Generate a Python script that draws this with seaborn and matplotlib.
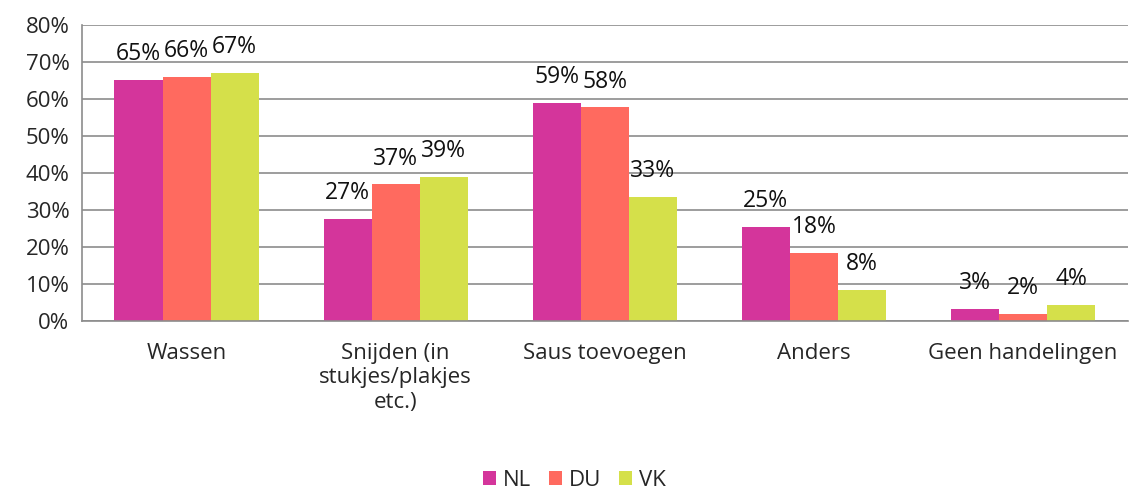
import pandas as pd
import matplotlib.pyplot as plt
import seaborn as sns
from matplotlib.ticker import FixedLocator, PercentFormatter

# Data
categories = ["Wassen", "Snijden (in\nstukjes/plakjes\netc.)", "Saus toevoegen", "Anders", "Geen handelingen"]
series = ["NL", "DU", "VK"]
nl = [65.2, 27.5, 59.0, 25.4, 3.2]
du = [66.0, 36.9, 57.7, 18.5, 1.8]
vk = [67.0, 39.0, 33.4, 8.4, 4.4]
nl_labels = ["65%", "27%", "59%", "25%", "3%"]
du_labels = ["66%", "37%", "58%", "18%", "2%"]
vk_labels = ["67%", "39%", "33%", "8%", "4%"]

colors = ["#D4359B", "#FF6A5F", "#D5E04A"]

df = pd.DataFrame({
    "category": categories * 3,
    "land": [s for s in series for _ in categories],
    "value": nl + du + vk,
})

sns.set_style("white")
plt.rcParams["font.family"] = ["Open Sans", "DejaVu Sans"]

fig = plt.figure(figsize=(11.31, 4.9), dpi=100)
ax = fig.add_axes([0.0725, 0.345, 0.9245, 0.604])

sns.barplot(data=df, x="category", y="value", hue="land", palette=colors,
            width=0.69, saturation=1, linewidth=0, ax=ax, legend=True)

for cont, labs in zip(ax.containers, [nl_labels, du_labels, vk_labels]):
    ax.bar_label(cont, labels=labs, padding=10, fontsize=16.5, color="#111111")

ax.set_ylim(0, 80)
ax.set_xlim(-0.5, 4.5)
ax.yaxis.set_major_locator(FixedLocator(range(0, 81, 10)))
ax.yaxis.set_major_formatter(PercentFormatter(decimals=0))
ax.grid(axis="y", color="#8c8c8c", linewidth=1.2)
ax.set_axisbelow(True)

ax.xaxis.set_minor_locator(FixedLocator([-0.5, 0.5, 1.5, 2.5, 3.5, 4.5]))
ax.tick_params(axis="x", which="major", length=0, pad=16, labelsize=16)
ax.tick_params(axis="x", which="minor", length=6, color="#8c8c8c", width=1.2)
ax.tick_params(axis="y", length=5, color="#8c8c8c", width=1.2, labelsize=16, pad=4)

for s in ["top", "right"]:
    ax.spines[s].set_visible(False)
for s in ["left", "bottom"]:
    ax.spines[s].set_color("#8c8c8c")
    ax.spines[s].set_linewidth(1.2)

ax.set_xlabel("")
ax.set_ylabel("")

ax.legend(loc="center", bbox_to_anchor=(0.471, -0.54), ncol=3, frameon=False,
          fontsize=16, handlelength=0.6, handleheight=0.6, handletextpad=0.3,
          columnspacing=0.8)

plt.savefig("out.png", dpi=100)
